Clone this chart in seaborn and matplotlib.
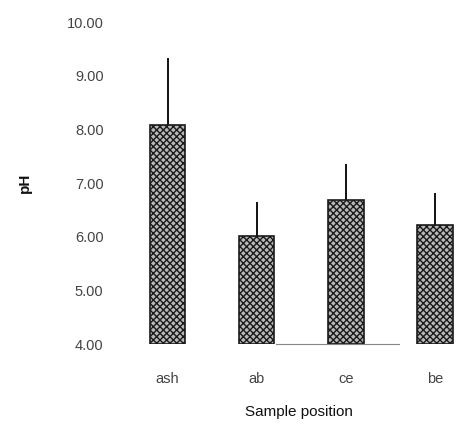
import matplotlib
matplotlib.use("Agg")
import matplotlib.pyplot as plt
import seaborn as sns
import pandas as pd

categories = ["ash", "ab", "ce", "be"]
ph_mean = [8.09, 6.01, 6.68, 6.22]
ph_err = [1.24, 0.63, 0.68, 0.59]
y_ticks = [4, 5, 6, 7, 8, 9, 10]

sns.set_theme(style="white")
plt.rcParams["font.family"] = ["Liberation Sans", "DejaVu Sans"]
plt.rcParams["hatch.color"] = "#2a2a2a"
plt.rcParams["hatch.linewidth"] = 1.0

df = pd.DataFrame({"pos": categories, "ph": ph_mean})

fig = plt.figure(figsize=(4.76, 4.26), dpi=100)
ax = fig.add_axes([123 / 476, 82 / 426, 352 / 476, 322 / 426])

sns.barplot(data=df, x="pos", y="ph", ax=ax, color="#b8b8b8", width=0.40,
            errorbar=None, edgecolor="#1a1a1a", linewidth=1.2)
# bars start from the axis floor at 4
for p in ax.patches:
    h = p.get_height()
    p.set_y(4)
    p.set_height(h - 4)
    p.set_hatch("xxxxx")

ax.errorbar(range(len(categories)), ph_mean,
            yerr=[[0] * len(ph_err), ph_err], fmt="none",
            ecolor="#111111", elinewidth=1.4, capsize=0, zorder=0)

ax.set_ylim(4, 10)
ax.set_xlim(-0.5, 3.45)
ax.set_yticks(y_ticks)
ax.set_yticklabels([f"{v:.2f}" for v in y_ticks])
ax.tick_params(axis="y", length=0, pad=14, labelsize=10.5, labelcolor="#444444")
ax.tick_params(axis="x", length=0, pad=20, labelsize=10.5, labelcolor="#444444")

for s in ["left", "right", "top"]:
    ax.spines[s].set_visible(False)
ax.spines["bottom"].set_color("#888888")
ax.spines["bottom"].set_linewidth(0.8)
ax.spines["bottom"].set_bounds(1.22, 2.6)

ax.set_xlabel("Sample position", fontsize=11, color="#111111", labelpad=14)
ax.set_ylabel("pH", fontsize=11, color="#111111", fontweight="bold")
ax.yaxis.set_label_coords(-0.26, 0.5)

fig.savefig("out.png", dpi=100)
